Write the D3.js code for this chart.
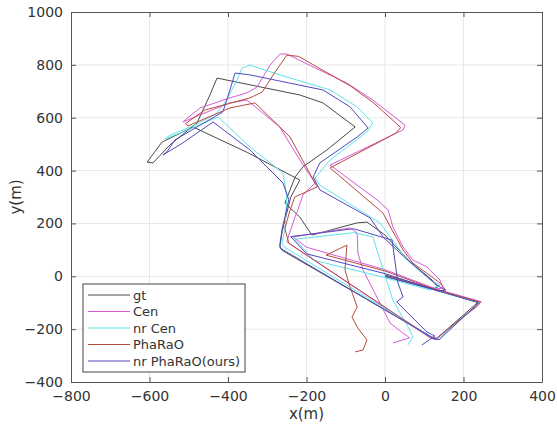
<!DOCTYPE html>
<html>
<head>
<meta charset="utf-8">
<script src="https://cdn.jsdelivr.net/npm/d3@7"></script>
<style>
  body { margin: 0; background: #fff; }
  text { font-family: "DejaVu Sans", sans-serif; fill: #333; }
</style>
</head>
<body>
<div id="traj"></div>
<script>
// trajectories, [x, y] in metres
var gt = [[0,0],[120,-48],[237,-97],[228,-110],[132,-235],[120,-230],[-262,98],[-268,110],[-262,170],[-240,300],[-217,364],
  [-350,468],[-489,565],[-568,508],[-606,432],[-591,429],[-548,497],[-479,580],[-446,686],[-428,750],[-217,686],[-158,656],
  [-76,565],[-148,478],[-209,414],[-229,376],[-255,277],[-217,224],[-186,156],[-71,202],[-46,205],[0,156],[64,54],[120,-14],
  [135,-40],[122,-46],[0,5]];

var cen = [[0,0],[125,-46],[245,-96],[236,-112],[128,-240],[114,-232],[-250,130],[-244,160],[-230,221],[-224,243],[-209,308],
  [-178,353],[-217,440],[-268,565],[-352,667],[-395,656],[-471,611],[-515,584],[-505,597],[-471,637],[-395,675],[-352,694],
  [-326,716],[-293,799],[-268,841],[-250,841],[-183,792],[-97,731],[-31,667],[51,572],[46,554],[-140,421],[-20,289],[8,251],
  [20,187],[46,111],[71,62],[107,35],[140,-14],[148,-44],[130,-48],[0,25],[-200,110],[-234,149],[-89,183],[-71,164],[-69,88],
  [-56,24],[-13,-101],[13,-177],[46,-215],[63,-233],[20,-252]];

var nrCen = [[0,0],[122,-50],[240,-100],[231,-114],[135,-238],[122,-233],[-258,112],[-262,125],[-255,180],[-250,300],[-260,391],
  [-344,489],[-425,603],[-500,555],[-560,520],[-550,532],[-480,575],[-430,615],[-403,667],[-377,743],[-364,788],[-344,799],
  [-268,762],[-140,705],[-71,641],[-31,580],[-46,546],[-140,440],[-178,372],[-166,345],[-13,202],[56,62],[115,-14],[140,-33],
  [115,-52],[0,-5],[-180,60],[-230,140],[-80,165],[-31,149],[20,-90],[63,-203],[71,-230],[58,-260]];

var pharao = [[0,0],[124,-47],[243,-98],[234,-112],[130,-236],[116,-231],[-245,125],[-255,180],[-244,240],[-230,300],[-173,338],
  [-242,527],[-331,656],[-395,637],[-502,569],[-508,578],[-459,629],[-344,675],[-313,697],[-280,773],[-250,837],[-220,832],
  [-166,786],[-89,721],[-28,655],[40,563],[28,542],[-140,410],[-5,239],[18,175],[46,100],[71,50],[140,-25],[155,-52],[138,-55],
  [0,20],[-150,80],[-97,118],[-102,24],[-89,-40],[-71,-116],[-84,-154],[-71,-192],[-46,-241],[-56,-279],[-76,-286]];

var nrPharao = [[0,0],[121,-49],[238,-100],[229,-114],[138,-240],[124,-236],[-265,105],[-268,118],[-262,180],[-245,290],[-260,353],
  [-344,478],[-438,584],[-520,500],[-566,459],[-556,470],[-535,516],[-471,572],[-413,622],[-395,705],[-382,769],[-344,762],
  [-158,705],[-89,641],[-43,561],[-71,527],[-166,429],[-183,376],[-166,327],[-38,221],[-5,149],[38,88],[132,-33],[153,-52],
  [136,-56],[0,10],[-200,85],[-240,150],[-80,180],[18,137],[33,-25],[46,-78],[30,-97],[51,-128],[107,-211],[127,-226],[94,-260]];

var seriesNames = ["gt", "Cen", "nr Cen", "PhaRaO", "nr PhaRaO(ours)"];
var seriesData = [gt, cen, nrCen, pharao, nrPharao];
var colors = ["#4a4a4a", "#d65bd6", "#5ee3e6", "#b84a40", "#5048bd"];

var xTicks = [-800, -600, -400, -200, 0, 200, 400];
var yTicks = [-400, -200, 0, 200, 400, 600, 800, 1000];

var margin = { top: 12, right: 15, bottom: 46, left: 71 },
  width = 557 - margin.left - margin.right,
  height = 428 - margin.top - margin.bottom;

var svg = d3.select("#traj")
  .append("svg")
    .attr("width", 557)
    .attr("height", 428)
  .append("g")
    .attr("transform", "translate(" + margin.left + "," + margin.top + ")");

var x = d3.scaleLinear().domain([-800, 400]).range([0, width]);
var y = d3.scaleLinear().domain([-400, 1000]).range([height, 0]);

// grid
svg.append("g").selectAll("line")
  .data(xTicks.slice(1, -1))
  .enter().append("line")
    .attr("x1", function(d) { return x(d) }).attr("x2", function(d) { return x(d) })
    .attr("y1", 0).attr("y2", height)
    .attr("stroke", "#e8e8e8");
svg.append("g").selectAll("line")
  .data(yTicks.slice(1, -1))
  .enter().append("line")
    .attr("y1", function(d) { return y(d) }).attr("y2", function(d) { return y(d) })
    .attr("x1", 0).attr("x2", width)
    .attr("stroke", "#e8e8e8");

// trajectories
var line = d3.line()
  .x(function(d) { return x(d[0]) })
  .y(function(d) { return y(d[1]) });

svg.selectAll("path.traj")
  .data(seriesData)
  .enter().append("path")
    .attr("class", "traj")
    .attr("d", line)
    .attr("fill", "none")
    .attr("stroke", function(d, i) { return colors[i] })
    .attr("stroke-width", 1)
    .attr("stroke-linejoin", "round");

// axes, ticks inward like matlab
var axisColor = "#555";
var fmt = d3.format("d");
svg.append("g")
  .attr("transform", "translate(0," + height + ")")
  .call(d3.axisBottom(x).tickValues(xTicks).tickFormat(fmt).tickSizeInner(-5).tickSizeOuter(0).tickPadding(9));
svg.append("g")
  .call(d3.axisLeft(y).tickValues(yTicks).tickFormat(fmt).tickSizeInner(-5).tickSizeOuter(0).tickPadding(8));
svg.append("g")
  .call(d3.axisTop(x).tickValues(xTicks).tickSizeInner(-5).tickSizeOuter(0).tickFormat(""));
svg.append("g")
  .attr("transform", "translate(" + width + ",0)")
  .call(d3.axisRight(y).tickValues(yTicks).tickSizeInner(-5).tickSizeOuter(0).tickFormat(""));

svg.selectAll(".domain").attr("stroke", axisColor);
svg.selectAll(".tick line").attr("stroke", axisColor);
svg.selectAll(".tick text").style("font-size", "14px").attr("fill", "#333");

svg.append("text")
  .attr("x", width / 2)
  .attr("y", height + 37)
  .attr("text-anchor", "middle")
  .style("font-size", "15px")
  .text("x(m)");

svg.append("text")
  .attr("transform", "translate(" + (-50) + "," + (height / 2) + ") rotate(-90)")
  .attr("text-anchor", "middle")
  .style("font-size", "15px")
  .text("y(m)");

// legend
var legend = svg.append("g").attr("transform", "translate(12," + (height - 98) + ")");
legend.append("rect")
  .attr("width", 162)
  .attr("height", 88)
  .attr("fill", "#fff")
  .attr("stroke", "#444");
var items = legend.selectAll("g.item")
  .data(seriesNames)
  .enter().append("g")
    .attr("transform", function(d, i) { return "translate(0," + (11 + i * 16.5) + ")" });
items.append("line")
  .attr("x1", 5).attr("x2", 47)
  .attr("stroke", function(d, i) { return colors[i] })
  .attr("stroke-width", 1.2);
items.append("text")
  .attr("x", 50)
  .attr("dy", "0.35em")
  .style("font-size", "13px")
  .text(function(d) { return d });
</script>
</body>
</html>
